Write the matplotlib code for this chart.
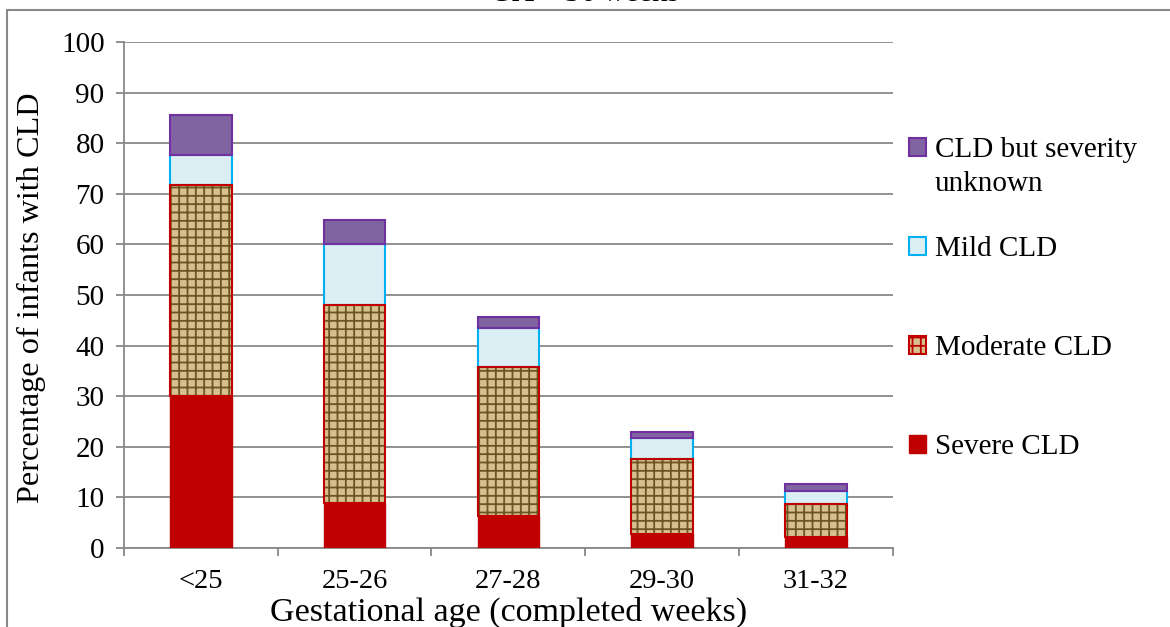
import matplotlib
matplotlib.use("Agg")
import matplotlib.pyplot as plt
import numpy as np
from matplotlib.patches import Rectangle, Patch

plt.rcParams['font.family'] = ['Liberation Serif', 'DejaVu Serif']
plt.rcParams['hatch.linewidth'] = 1.3

# data
categories = ['<25', '25-26', '27-28', '29-30', '31-32']
severe = [30.0, 8.9, 6.3, 2.8, 2.1]
moderate = [41.7, 39.1, 29.5, 14.7, 6.6]
mild = [6.0, 12.1, 7.7, 4.2, 2.6]
unknown = [7.9, 4.7, 2.2, 1.2, 1.3]

fig = plt.figure(figsize=(11.7, 6.27), dpi=100)
ax = fig.add_axes([0.106, 0.126, 0.657, 0.807])

x = np.arange(len(categories))
w = 0.4
b1 = np.array(severe)
b2 = b1 + np.array(moderate)
b3 = b2 + np.array(mild)

ax.bar(x, severe, w, color='#C00000', edgecolor='#C00000', lw=1, zorder=3)
# moderate: textured fill then red outline on top
ax.bar(x, moderate, w, bottom=b1, color='#D6C08E', edgecolor='#6E5424',
       hatch='++', lw=0, zorder=3)
ax.bar(x, moderate, w, bottom=b1, facecolor='none', edgecolor='#C00000',
       lw=1.5, zorder=4)
ax.bar(x, mild, w, bottom=b2, color='#DAEEF3', edgecolor='#00B0F0', lw=1.5, zorder=3)
ax.bar(x, unknown, w, bottom=b3, color='#8064A2', edgecolor='#7030A0', lw=1.5, zorder=3)

ax.set_ylim(0, 100)
ax.set_xlim(-0.5, len(categories) - 0.5)
ax.set_yticks(range(0, 101, 10))
ax.set_xticks(x)
ax.set_xticklabels(categories)
ax.set_xticks(np.arange(-0.5, len(categories)), minor=True)
ax.yaxis.grid(True, color='#888888', lw=1.3, zorder=0)
ax.set_axisbelow(True)
for s in ['top', 'right']:
    ax.spines[s].set_visible(False)
for s in ['left', 'bottom']:
    ax.spines[s].set_color('#888888')
    ax.spines[s].set_linewidth(1.3)
ax.tick_params(axis='y', colors='#888888', labelcolor='black', labelsize=21,
               length=6, width=1.3, pad=8)
ax.tick_params(axis='x', which='major', length=0, labelsize=20.5, pad=15)
ax.tick_params(axis='x', which='minor', length=6, width=1.3, colors='#888888')

ax.set_ylabel('Percentage of infants with CLD', fontsize=23.2)
ax.yaxis.set_label_coords(-0.102, 0.495)
ax.set_xlabel('Gestational age (completed weeks)', fontsize=24.5, labelpad=2)

handles = [
    Patch(facecolor='#8064A2', edgecolor='#7030A0', lw=1.5),
    Patch(facecolor='#DAEEF3', edgecolor='#00B0F0', lw=1.5),
    Patch(facecolor='#D6C08E', edgecolor='#C00000', hatch='++', lw=1.5),
    Patch(facecolor='#C00000', edgecolor='#C00000'),
]
labels = ['CLD but severity', 'Mild CLD', 'Moderate CLD', 'Severe CLD']
leg = fig.legend(handles, labels, loc='upper left', bbox_to_anchor=(0.7765, 0.781),
                 frameon=False, fontsize=21, labelspacing=2.5, handlelength=0.6,
                 handleheight=0.6, handletextpad=0.3, borderaxespad=0,
                 borderpad=0)
# second line of the first legend label, aligned under the first line
fig.canvas.draw()
bb = leg.get_texts()[0].get_window_extent().transformed(fig.transFigure.inverted())
fig.text(bb.x0, bb.y0 - 0.053, 'unknown', fontsize=21, ha='left', va='bottom')

# title mostly cut off at the top of the image
fig.text(0.5, 1 - 1 / 627, 'GA = 36 weeks', ha='center', va='baseline', fontsize=22)

# outer chart frame
fig.patches.append(Rectangle((7 / 1170, -0.1), 1.2, (627 - 10) / 627 + 0.1,
                             transform=fig.transFigure, fill=False,
                             edgecolor='#888888', lw=1.5))

fig.savefig('out.png', dpi=100)
